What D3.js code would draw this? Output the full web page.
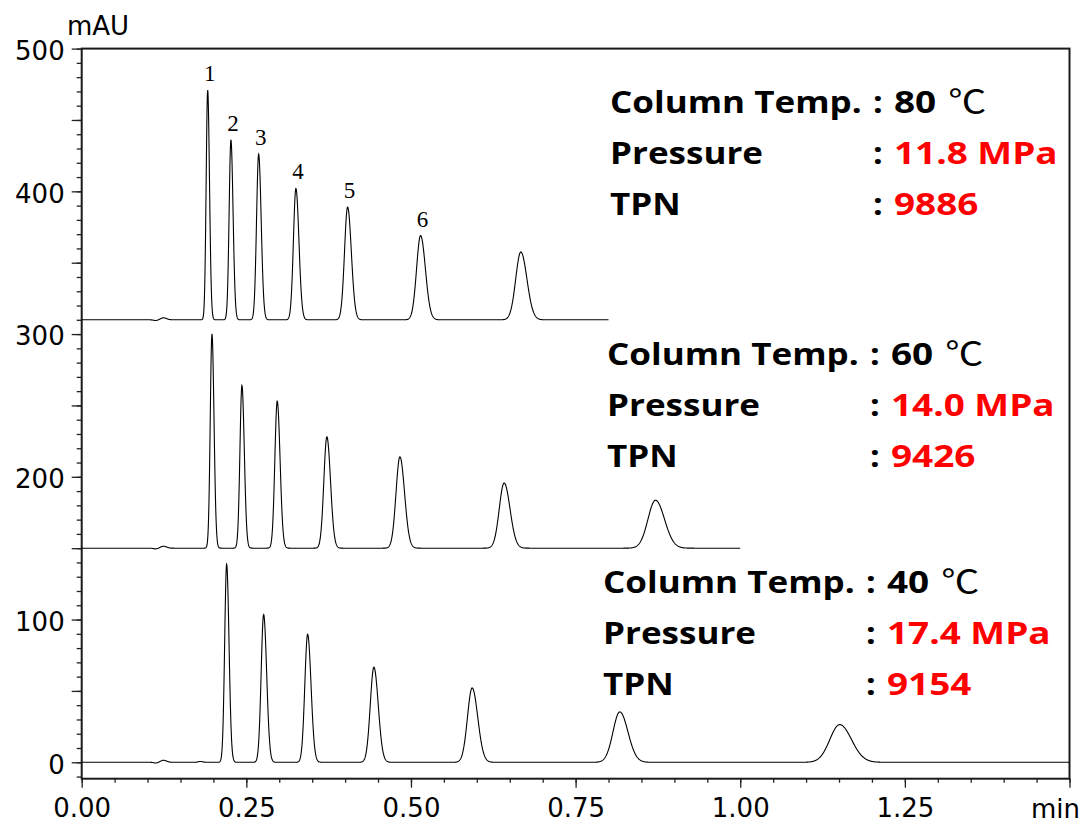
<!DOCTYPE html>
<html>
<head>
<meta charset="utf-8">
<script src="https://cdn.jsdelivr.net/npm/d3@7"></script>
<style>
  body { margin: 0; background: #fff; }
  svg { display: block; }
  .tick text { font-family: 'DejaVu Sans', sans-serif; font-size: 26px; fill: #000; }
  .info { font-family: 'Open Sans', 'Noto Sans CJK JP', sans-serif; font-weight: bold; font-size: 31px; }
  .deg { font-family: 'Noto Sans CJK JP', sans-serif; font-weight: normal; font-size: 32px; }
</style>
</head>
<body>
<script>
// peak retention times (min), heights above baseline (mAU), widths (sigma, min)
var times80 = [0.1913, 0.2266, 0.2687, 0.3253, 0.4038, 0.5146, 0.6668];
var heights80 = [161, 126, 116, 92, 79, 59, 47.5];
var widths80 = [0.0023, 0.0027, 0.0032, 0.0038, 0.0047, 0.0061, 0.0077];

var times60 = [0.1978, 0.2433, 0.2969, 0.3723, 0.4832, 0.6415, 0.8713];
var heights60 = [150, 114, 103, 78, 64, 45.7, 33.6];
var widths60 = [0.0026, 0.0030, 0.0036, 0.0046, 0.0059, 0.0074, 0.0114];

var times40 = [0.2201, 0.2763, 0.3431, 0.4437, 0.5929, 0.8171, 1.1510];
var heights40 = [138.8, 103.5, 89.7, 66.6, 52.1, 35.3, 26.4];
var widths40 = [0.0030, 0.0038, 0.0043, 0.0055, 0.0071, 0.0103, 0.0149];

// small baseline disturbances near the void time
var bumpTimes = [0.112, 0.124, 0.180];
var bumpHeights = [-0.5, 1.4, 0.6];
var bumpWidths = [0.003, 0.004, 0.003];

var baselines = [310, 150, 0];
var runEnds = [0.8, 1.0, 1.5];

var temps = ['80', '60', '40'];
var pressures = ['11.8 MPa', '14.0 MPa', '17.4 MPa'];
var tpns = ['9886', '9426', '9154'];
var peakLabels = ['1', '2', '3', '4', '5', '6'];

var xTicks = [0, 0.25, 0.5, 0.75, 1.0, 1.25, 1.5];
var yTicks = [0, 100, 200, 300, 400, 500];

var width = 1082, height = 823;
var margin = { left: 81.7, right: 12.5, top: 48.6, bottom: 44.3 };

var svg = d3.select('body').append('svg')
	.attr('width', width)
	.attr('height', height);

var x = d3.scaleLinear().domain([0, 1.5]).range([margin.left, width - margin.right]);
var y = d3.scaleLinear().domain([-11.5, 500]).range([height - margin.bottom, margin.top]);

// x axis: minor then major ticks
svg.append('g')
	.attr('transform', 'translate(0,' + y.range()[0] + ')')
	.call(d3.axisBottom(x).tickValues(d3.range(0, 1.5001, 0.05)).tickSize(4).tickFormat(''))
	.call(function (g) { g.select('.domain').remove(); });
svg.append('g')
	.attr('transform', 'translate(0,' + y.range()[0] + ')')
	.call(d3.axisBottom(x).tickValues(xTicks).tickSize(9).tickPadding(11)
		.tickFormat(function (d) { return d === 1.5 ? '' : d3.format('.2f')(d); }))
	.call(function (g) { g.select('.domain').remove(); });

// y axis: minor every 10, major every 50, labels every 100
svg.append('g')
	.attr('transform', 'translate(' + x.range()[0] + ',0)')
	.call(d3.axisLeft(y).tickValues(d3.range(-10, 501, 10)).tickSize(5).tickFormat(''))
	.call(function (g) { g.select('.domain').remove(); });
svg.append('g')
	.attr('transform', 'translate(' + x.range()[0] + ',0)')
	.call(d3.axisLeft(y).tickValues(d3.range(0, 501, 50)).tickSize(10).tickPadding(7)
		.tickFormat(function (d) { return yTicks.indexOf(d) >= 0 ? d : ''; }))
	.call(function (g) { g.select('.domain').remove(); })
	.selectAll('text').attr('dy', '0.42em');

svg.selectAll('.tick line').attr('stroke', '#222').attr('stroke-width', 1.3);

svg.append('rect')
	.attr('x', x.range()[0])
	.attr('y', y.range()[1])
	.attr('width', x.range()[1] - x.range()[0])
	.attr('height', y.range()[0] - y.range()[1])
	.attr('fill', 'none')
	.attr('stroke', '#1a1a1a')
	.attr('stroke-width', 2);

svg.append('text')
	.attr('x', 67).attr('y', 35)
	.style('font-family', "'DejaVu Sans', sans-serif").style('font-size', '26px')
	.text('mAU');
svg.append('text')
	.attr('x', 1080).attr('y', 818)
	.attr('text-anchor', 'end')
	.style('font-family', "'DejaVu Sans', sans-serif").style('font-size', '26px')
	.text('min');

// chromatograms
function peakShape(t, t0, h, s) {
	var sd = t < t0 ? s : s * 1.2;
	var z = (t - t0) / sd;
	return h * Math.exp(-0.5 * z * z);
}

function trace(times, heights, widths, base, end, nBumps) {
	return d3.range(0, end + 0.00001, 0.0004).map(function (t) {
		var v = base;
		times.forEach(function (t0, i) { v += peakShape(t, t0, heights[i], widths[i]); });
		for (var j = 0; j < nBumps; j++) v += peakShape(t, bumpTimes[j], bumpHeights[j], bumpWidths[j]);
		return [t, v];
	});
}

var runs = [
	trace(times80, heights80, widths80, baselines[0], runEnds[0], 2),
	trace(times60, heights60, widths60, baselines[1], runEnds[1], 2),
	trace(times40, heights40, widths40, baselines[2], runEnds[2], 3)
];

var line = d3.line()
	.x(function (d) { return x(d[0]); })
	.y(function (d) { return y(d[1]); });

svg.selectAll('path.run')
	.data(runs)
	.enter().append('path')
	.classed('run', true)
	.attr('d', line)
	.attr('fill', 'none')
	.attr('stroke', '#000')
	.attr('stroke-width', 1.1);

// peak numbers on the top run
svg.selectAll('text.peak')
	.data(peakLabels)
	.enter().append('text')
	.classed('peak', true)
	.attr('x', function (d, i) { return x(times80[i]) + 2; })
	.attr('y', function (d, i) { return y(baselines[0] + heights80[i]) - 9; })
	.attr('text-anchor', 'middle')
	.style('font-family', "'Liberation Serif', serif")
	.style('font-size', '23px')
	.text(function (d) { return d; });

// condition blocks
var infoPos = [{ x: 610, y: 113 }, { x: 607, y: 365 }, { x: 603, y: 593 }];
var rowGap = 51;

function put(g, px, py, sx, txt, color) {
	return g.append('text')
		.attr('transform', 'translate(' + px + ',' + py + ') scale(' + sx + ',1)')
		.attr('fill', color || '#000')
		.text(txt);
}

infoPos.forEach(function (p, i) {
	var g = svg.append('g').classed('info', true);
	var rows = [
		{ label: 'Column Temp.', value: temps[i], color: '#000' },
		{ label: 'Pressure', value: pressures[i], color: '#ff0000' },
		{ label: 'TPN', value: tpns[i], color: '#ff0000' }
	];
	rows.forEach(function (r, k) {
		var yy = p.y + k * rowGap;
		put(g, p.x, yy, 1.13, r.label);
		put(g, p.x + 263, yy, 1.1, ':');
		var v = put(g, p.x + 284, yy, 1.19, r.value, r.color);
		if (k === 0) {
			v.append('tspan').text(' ');
			v.append('tspan').classed('deg', true).attr('dx', 2).text('\u2103');
		}
	});
});
</script>
</body>
</html>
